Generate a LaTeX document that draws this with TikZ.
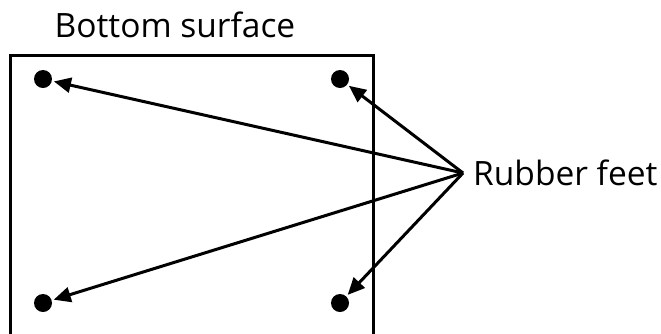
\documentclass[tikz,border=0pt]{standalone}
\usepackage{fontspec}
\setmainfont{Open Sans}
\usetikzlibrary{arrows.meta, positioning}

\begin{document}
\begin{tikzpicture}[x=1pt, y=-1pt,
  foot/.style={circle, fill=black, inner sep=0pt, minimum size=18pt},
  pointer/.style={line width=3pt, -{Triangle[length=17pt, width=15pt]}, shorten >=2pt},
  label/.style={font=\fontsize{33.5}{38}\selectfont, inner sep=0pt}]
  \useasboundingbox (0,0) rectangle (661,333);
  % plate outline, open at the bottom
  \draw[line width=3pt] (10,340) -- (10,55) -- (373,55) -- (373,340);
  \node[label, anchor=base] (title) at (175,37) {Bottom surface};
  % feet
  \node[foot] (foot1) at (43,79) {};
  \node[foot] (foot2) at (340,79) {};
  \node[foot] (foot3) at (43,303) {};
  \node[foot] (foot4) at (340,303) {};
  \coordinate (hub) at (463,173);
  \node[label, anchor=west, right=10pt of hub] (rubber) {Rubber feet};
  \foreach \f in {foot1, foot2, foot3, foot4}
    \draw[pointer] (hub) -- (\f);
\end{tikzpicture}
\end{document}
